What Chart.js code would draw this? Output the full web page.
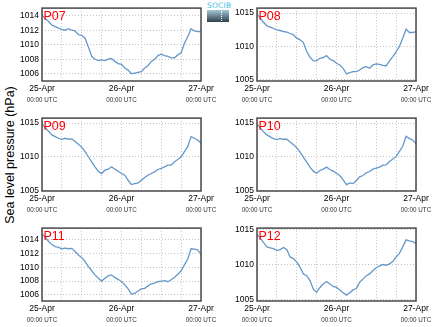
<!DOCTYPE html>
<html>
<head>
<meta charset="utf-8">
<script src="https://cdn.jsdelivr.net/npm/chart.js@4/dist/chart.umd.min.js"></script>
<style>
  body { margin: 0; background: #fff; width: 435px; height: 327px; position: relative; overflow: hidden;
         font-family: "Liberation Sans", Arial, sans-serif; }
  canvas { position: absolute; }
  #ytitle { position: absolute; left: 10px; top: 155px; transform: translate(-50%, -50%) rotate(-90deg);
            white-space: nowrap; font-size: 12.5px; color: #000; }
  #logo { position: absolute; left: 207px; top: 2px; width: 22px; }
  #logo .name { font: 7.5px "DejaVu Sans", sans-serif; color: #3fbfdc; letter-spacing: 0.2px; line-height: 8px; text-align: center; }
  #logo .box { position: relative; height: 12px; background: linear-gradient(#a7c8d5, #2d3f4c); }
  #logo .box::after { content: ""; position: absolute; left: 14px; top: 1px; height: 10px; border-left: 1px dotted #fff; }
</style>
</head>
<body>
<div id="ytitle">Sea level pressure (hPa)</div>
<div id="logo"><div class="name">SOCIB</div><div class="box"></div></div>

<canvas id="c0" width="230" height="110" style="left:0;top:0"></canvas>
<canvas id="c1" width="205" height="110" style="left:230px;top:0"></canvas>
<canvas id="c2" width="230" height="110" style="left:0;top:110px"></canvas>
<canvas id="c3" width="205" height="110" style="left:230px;top:110px"></canvas>
<canvas id="c4" width="230" height="110" style="left:0;top:220px"></canvas>
<canvas id="c5" width="205" height="110" style="left:230px;top:220px"></canvas>

<script>
// hours since 25-Apr 00:00 UTC
const hours = [0, 1, 2, 3, 4, 5, 6, 7, 8, 9, 10, 11, 12, 13, 14, 15, 16, 17, 18, 19, 20, 21, 22, 23, 24,
               25, 26, 27, 28, 29, 30, 31, 32, 33, 34, 35, 36, 37, 38, 39, 40, 41, 42, 43, 44, 45, 46, 47, 48];
const gridHours = [0, 6, 12, 18, 24, 30, 36, 42, 48];
const dayHours = [0, 24, 48];
const dayTicks = ['25-Apr', '26-Apr', '27-Apr'];
const timeTick = '00:00 UTC';

const stations = ['P07', 'P08', 'P09', 'P10', 'P11', 'P12'];

// sea level pressure, hPa, hourly
const p07 = [1014.1, 1013.6, 1013.2, 1012.7, 1012.5, 1012.3, 1012.1, 1012.0, 1012.2, 1012.0, 1011.9, 1011.4, 1011.3,
             1010.9, 1009.7, 1008.4, 1008.0, 1007.8, 1007.9, 1007.8, 1008.0, 1008.1, 1007.7, 1007.4, 1007.3,
             1006.8, 1006.5, 1006.0, 1006.1, 1006.2, 1006.3, 1006.8, 1007.1, 1007.7, 1008.0, 1008.5, 1008.7,
             1008.5, 1008.4, 1008.2, 1008.2, 1008.6, 1008.9, 1010.2, 1011.1, 1012.2, 1011.9, 1011.8, 1011.8];
const p08 = [1014.9, 1014.25, 1013.6, 1013.1, 1012.9, 1012.7, 1012.5, 1012.4, 1012.25, 1012.15, 1011.95, 1011.75, 1011.25,
             1011.0, 1010.6, 1009.25, 1008.4, 1007.85, 1007.9, 1008.25, 1008.35, 1008.65, 1008.1, 1007.9, 1007.5,
             1007.25, 1006.75, 1005.9, 1006.1, 1006.25, 1006.25, 1006.5, 1006.85, 1007.0, 1006.75, 1007.25, 1007.4,
             1007.35, 1007.2, 1007.1, 1007.85, 1008.5, 1009.25, 1010.0, 1011.25, 1012.6, 1012.1, 1012.1, 1012.25];
const p09 = [1014.9, 1014.35, 1013.75, 1013.25, 1013.0, 1012.75, 1012.6, 1012.75, 1012.6, 1012.65, 1012.25, 1011.85, 1011.4,
             1010.75, 1010.0, 1009.25, 1008.5, 1007.85, 1007.5, 1008.0, 1008.15, 1008.5, 1008.15, 1007.85, 1007.5,
             1007.25, 1006.5, 1005.85, 1006.0, 1006.1, 1006.5, 1006.9, 1007.25, 1007.5, 1007.75, 1008.1, 1008.25,
             1008.5, 1008.75, 1008.75, 1009.25, 1009.6, 1010.0, 1010.75, 1011.5, 1013.0, 1012.75, 1012.5, 1012.0];
const p10 = [1014.85, 1014.3, 1013.7, 1013.25, 1012.95, 1012.7, 1012.55, 1012.7, 1012.6, 1012.6, 1012.2, 1011.8, 1011.35,
             1010.7, 1009.95, 1009.2, 1008.45, 1007.85, 1007.55, 1007.95, 1008.15, 1008.45, 1008.1, 1007.85, 1007.55,
             1007.2, 1006.55, 1005.85, 1006.1, 1006.0, 1006.45, 1007.0, 1007.2, 1007.6, 1007.8, 1008.15, 1008.3,
             1008.45, 1008.75, 1008.8, 1009.3, 1009.65, 1010.05, 1010.8, 1011.55, 1013.05, 1012.7, 1012.5, 1011.95];
const p11 = [1014.9, 1014.35, 1013.75, 1013.3, 1013.0, 1012.9, 1012.7, 1012.8, 1012.7, 1012.75, 1012.3, 1011.8, 1011.4,
             1010.85, 1010.1, 1009.5, 1008.9, 1008.4, 1008.0, 1008.4, 1008.75, 1008.9, 1008.5, 1008.25, 1007.9,
             1007.45, 1006.85, 1006.1, 1006.2, 1006.55, 1006.85, 1006.95, 1007.3, 1007.6, 1007.7, 1007.9, 1008.0,
             1008.05, 1007.9, 1008.2, 1008.55, 1009.0, 1009.5, 1010.35, 1011.2, 1012.7, 1012.65, 1012.55, 1011.9];
const p12 = [1014.35, 1013.8, 1013.15, 1012.55, 1012.4, 1012.3, 1012.0, 1012.15, 1012.45, 1012.15, 1011.1, 1010.85, 1010.35,
             1009.6, 1008.65, 1008.4, 1007.7, 1006.45, 1006.0, 1006.7, 1007.2, 1007.55, 1007.2, 1006.85, 1006.7,
             1006.35, 1005.95, 1005.6, 1005.95, 1006.35, 1006.55, 1007.45, 1007.9, 1008.4, 1008.65, 1009.15, 1009.55,
             1009.8, 1010.0, 1009.9, 1010.1, 1010.45, 1011.1, 1011.6, 1012.55, 1013.55, 1013.4, 1013.3, 1013.05];
const series = [p07, p08, p09, p10, p11, p12];

// y axis limits and tick values per station
const yMin = [1005.0, 1004.85, 1004.9, 1004.9, 1005.1, 1004.75];
const yMax = [1015.05, 1015.75, 1015.75, 1015.75, 1015.7, 1015.25];
const yTicks = [
  [1006, 1008, 1010, 1012, 1014],
  [1005, 1010, 1015],
  [1005, 1010, 1015],
  [1005, 1010, 1015],
  [1006, 1008, 1010, 1012, 1014],
  [1005, 1010, 1015]
];

const FONT = '"Liberation Sans", Arial, sans-serif';

// box around the plot + station name in the corner
const frameAndName = {
  id: 'frameAndName',
  afterDatasetsDraw(chart, args, opts) {
    const a = chart.chartArea, ctx = chart.ctx;
    ctx.save();
    ctx.strokeStyle = '#484848';
    ctx.lineWidth = 1.5;
    ctx.strokeRect(a.left, a.top, a.right - a.left, a.bottom - a.top);
    ctx.fillStyle = '#ff0000';
    ctx.font = '12.5px ' + FONT;
    ctx.textBaseline = 'alphabetic';
    ctx.fillText(opts.text, a.left + 1.5, a.top + 11.5);
    ctx.restore();
  }
};

function panel(i) {
  const left = i % 2 === 0;
  const plotLeft = left ? 42 : 27;
  const padRight = left ? 29 : 19;
  new Chart(document.getElementById('c' + i), {
    type: 'line',
    data: {
      datasets: [{
        data: hours.map((h, k) => ({ x: h, y: series[i][k] })),
        borderColor: '#6598ca',
        borderWidth: 1.3,
        pointRadius: 0,
        tension: 0,
        fill: false
      }]
    },
    options: {
      responsive: false,
      animation: false,
      devicePixelRatio: 1,
      layout: { padding: { top: 8, right: padRight, left: 0, bottom: 0 } },
      plugins: {
        legend: { display: false },
        tooltip: { enabled: false },
        frameAndName: { text: stations[i] }
      },
      scales: {
        x: {
          type: 'linear', min: 0, max: 48, weight: 0,
          afterBuildTicks: s => { s.ticks = gridHours.map(v => ({ value: v })); },
          afterFit: s => { s.height = 15; s.paddingLeft = 0; s.paddingRight = 0; },
          ticks: {
            autoSkip: false, maxRotation: 0, padding: 3, color: '#000',
            font: { family: FONT, size: 8.5 },
            callback: v => (v % 24 === 0 ? dayTicks[v / 24] : '')
          },
          grid: { color: '#b5b5b5', lineWidth: 0.8, drawTicks: false },
          border: { display: false, dash: [1, 2] }
        },
        x2: {
          type: 'linear', position: 'bottom', min: 0, max: 48, weight: 1,
          afterBuildTicks: s => { s.ticks = dayHours.map(v => ({ value: v })); },
          afterFit: s => { s.height = 14; s.paddingLeft = 0; s.paddingRight = 0; },
          ticks: {
            autoSkip: false, maxRotation: 0, padding: 0, color: '#333',
            font: { family: FONT, size: 6.3 },
            callback: () => timeTick
          },
          grid: { display: false, drawTicks: false },
          border: { display: false }
        },
        y: {
          min: yMin[i], max: yMax[i],
          afterBuildTicks: s => { s.ticks = yTicks[i].map(v => ({ value: v })); },
          afterFit: s => { s.width = plotLeft; },
          ticks: {
            padding: 3, color: '#000',
            font: { family: FONT, size: 8.5 },
            callback: v => String(v)
          },
          grid: { color: '#b5b5b5', lineWidth: 0.8, drawTicks: false },
          border: { display: false, dash: [1, 2] }
        }
      }
    },
    plugins: [frameAndName]
  });
}

for (let i = 0; i < stations.length; i++) panel(i);
</script>
</body>
</html>
